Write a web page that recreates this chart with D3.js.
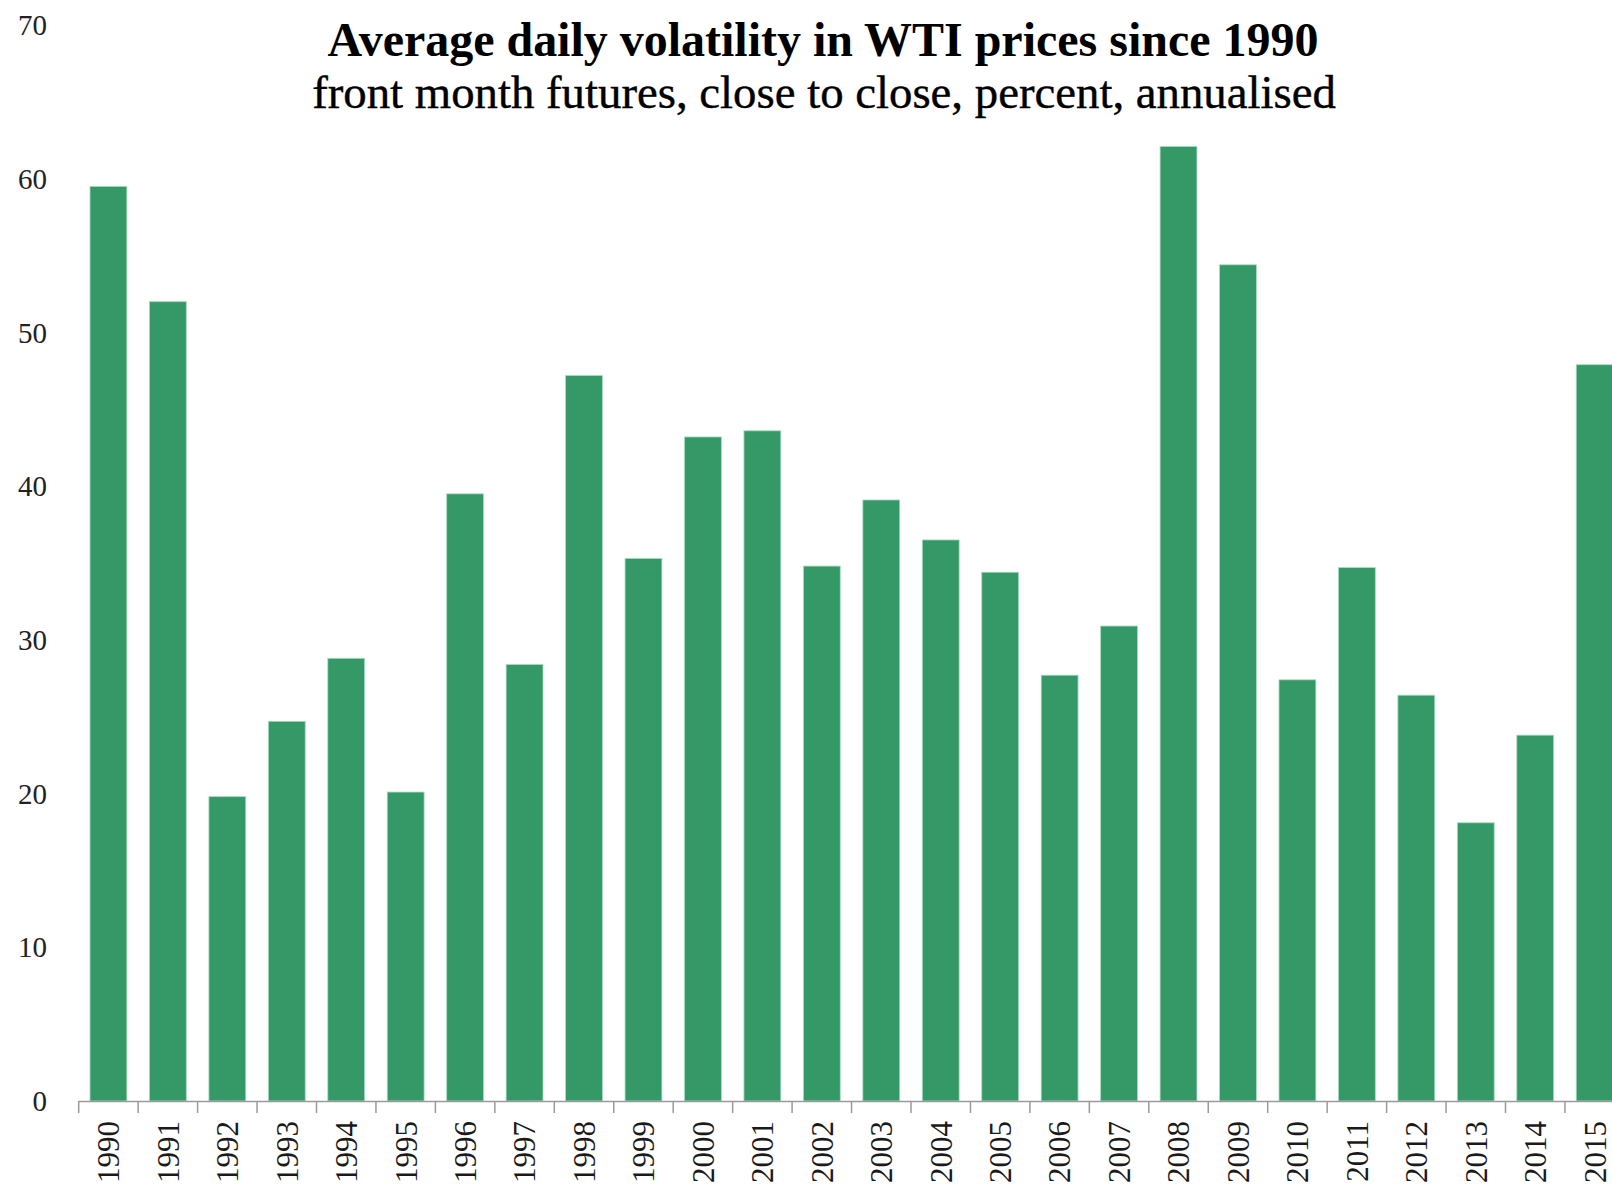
<!DOCTYPE html>
<html>
<head>
<meta charset="UTF-8">
<title>WTI volatility</title>
<script src="https://cdn.jsdelivr.net/npm/d3@7"></script>
<style>
body { margin:0; background:#fff; }
text { font-family: "Liberation Serif", "DejaVu Serif", serif; }
.bar { fill:#349966; stroke:#a8dcc0; stroke-width:0.8px; }
</style>
</head>
<body>
<svg id="chart" width="1612" height="1189"></svg>
<script>
var years = ["1990","1991","1992","1993","1994","1995","1996","1997","1998","1999","2000","2001","2002",
             "2003","2004","2005","2006","2007","2008","2009","2010","2011","2012","2013","2014","2015"];
var vol = [59.5, 52.0, 19.8, 24.7, 28.8, 20.1, 39.5, 28.4, 47.2, 35.3, 43.2, 43.6, 34.8,
           39.1, 36.5, 34.4, 27.7, 30.9, 62.1, 54.4, 27.4, 34.7, 26.4, 18.1, 23.8, 47.9];
var yTicks = [0, 10, 20, 30, 40, 50, 60, 70];
var title = "Average daily volatility in WTI prices since 1990";
var subtitle = "front month futures, close to close, percent, annualised";

var svg = d3.select("#chart");

var x = d3.scaleBand().domain(years).range([78.7, 1624.4]).paddingInner(0.38).paddingOuter(0.19);
var y = d3.scaleLinear().domain([0, 70]).range([1101, 25]);

// bars
svg.selectAll(".bar").data(vol).enter().append("rect")
   .attr("class", "bar")
   .attr("x", function(d, i) { return x(years[i]); })
   .attr("y", function(d) { return y(d); })
   .attr("width", x.bandwidth())
   .attr("height", function(d) { return y(0) - y(d); });

// x axis line + ticks at band edges
var step = x.step();
var x0 = x.range()[0];
svg.append("line").attr("x1", x0).attr("x2", 1612).attr("y1", y(0) + 0.5).attr("y2", y(0) + 0.5)
   .style("stroke", "#9a9a9a").style("stroke-width", 1.5);
svg.selectAll(".xtick").data(years).enter().append("line")
   .attr("x1", function(d, i) { return x0 + i * step; })
   .attr("x2", function(d, i) { return x0 + i * step; })
   .attr("y1", y(0)).attr("y2", y(0) + 12)
   .style("stroke", "#9a9a9a").style("stroke-width", 1.5);

// x labels, rotated
svg.selectAll(".xlab").data(years).enter().append("text")
   .attr("transform", function(d) { return "translate(" + (x(d) + x.bandwidth() / 2) + "," + 1121 + ") rotate(-90)"; })
   .attr("text-anchor", "end")
   .attr("dy", "0.35em")
   .style("font-size", "31px")
   .style("fill", "#1a1a1a")
   .text(function(d) { return d; });

// y labels (no axis line)
svg.selectAll(".ylab").data(yTicks).enter().append("text")
   .attr("x", 47)
   .attr("y", function(d) { return y(d); })
   .attr("dy", "0.35em")
   .attr("text-anchor", "end")
   .style("font-size", "29px")
   .style("fill", "#222")
   .text(function(d) { return d; });

// titles, fitted to the measured widths
function fitText(t, target) {
  var w = t.node().getComputedTextLength();
  var fs = parseFloat(t.style("font-size"));
  t.style("font-size", (fs * target / w) + "px");
}
var t1 = svg.append("text").attr("x", 823).attr("y", 56).attr("text-anchor", "middle")
   .style("font-size", "44px").style("font-weight", "bold").style("fill", "#000").text(title);
fitText(t1, 991);
var t2 = svg.append("text").attr("x", 824).attr("y", 108).attr("text-anchor", "middle")
   .style("font-size", "38px").style("fill", "#000").style("stroke", "#000").style("stroke-width", 0.4)
   .text(subtitle);
fitText(t2, 1024);
</script>
</body>
</html>
